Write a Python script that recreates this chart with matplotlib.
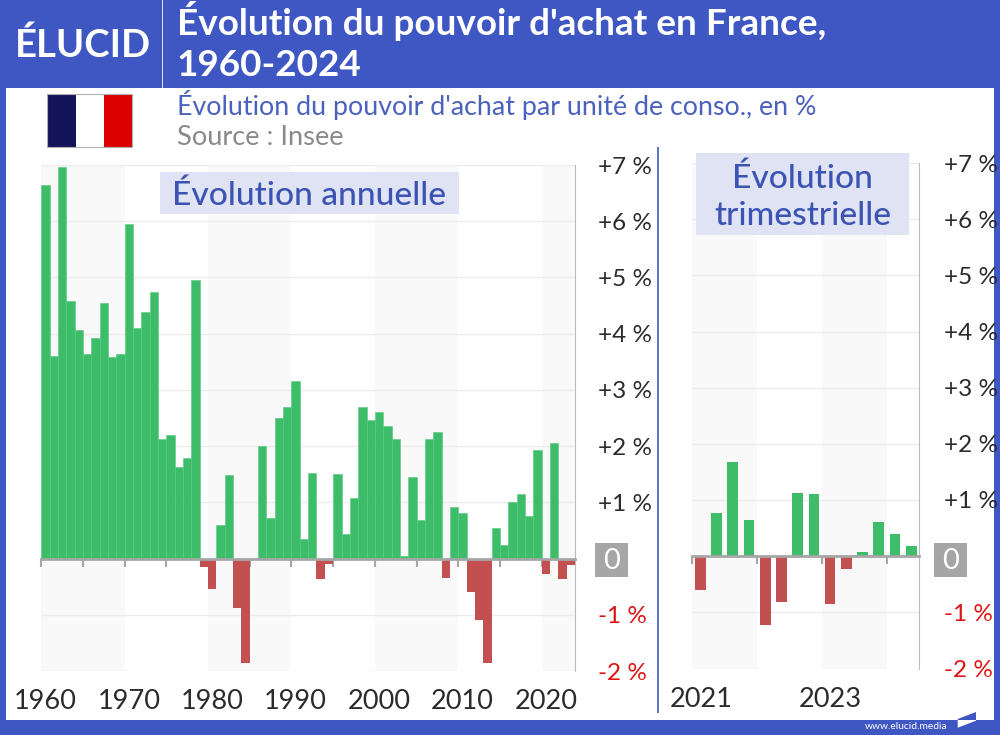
import numpy as np
import matplotlib
matplotlib.use('Agg')
import matplotlib.pyplot as plt
from matplotlib.patches import Rectangle, Polygon

plt.rcParams['font.family'] = ['Lato', 'DejaVu Sans']

# annual change in %, 1960-2023
years = list(range(1960, 2024))
annual = [6.64, 3.60, 6.97, 4.58, 4.06, 3.64, 3.92, 4.55, 3.58, 3.63,
          5.95, 4.10, 4.39, 4.75, 2.12, 2.19, 1.63, 1.79, 4.96, -0.15,
          -0.55, 0.60, 1.48, -0.88, -1.85, 0.0, 2.01, 0.72, 2.50, 2.70,
          3.16, 0.34, 1.52, -0.37, -0.09, 1.51, 0.43, 1.07, 2.70, 2.46,
          2.61, 2.35, 2.12, 0.04, 1.45, 0.68, 2.12, 2.25, -0.34, 0.92,
          0.81, -0.59, -1.10, -1.86, 0.54, 0.25, 1.00, 1.14, 0.75, 1.93,
          -0.28, 2.06, -0.37, -0.12]
# quarterly change in %, 2021 Q1 - 2024 Q2
quarters = [2021 + i * 0.25 for i in range(14)]
quarterly = [-0.60, 0.77, 1.67, 0.64, -1.22, -0.82, 1.12, 1.10,
             -0.85, -0.23, 0.07, 0.60, 0.39, 0.18]

y_ticks = [-2, -1, 1, 2, 3, 4, 5, 6, 7]
y_labels = ['-2 %', '-1 %', '+1 %', '+2 %', '+3 %', '+4 %', '+5 %', '+6 %', '+7 %']
decades = [1960, 1970, 1980, 1990, 2000, 2010, 2020]
year_labels = [2021, 2023]

BLUE = '#3f57c2'
TEXT_BLUE = '#3b53b3'
GREEN = '#3dbd6a'
RED = '#c25050'
W, H = 1000, 735

fig = plt.figure(figsize=(10, 7.35), dpi=100)


def fx(x):
    return x / W


def fy(y):
    return 1 - y / H


def box(x0, y0, x1, y1, color, z=1):
    fig.add_artist(Rectangle((fx(x0), fy(y1)), (x1 - x0) / W, (y1 - y0) / H,
                             transform=fig.transFigure, fc=color, ec='none', zorder=z))


def label(x, y, s, size, color, weight='normal', ha='left', va='baseline'):
    fig.text(fx(x), fy(y), s, fontsize=size, color=color, fontweight=weight, ha=ha, va=va, zorder=3)


def make_axes(x0, x1, y0, y1, xs, values, width, xlim, bands, ticks, pad):
    ax = fig.add_axes([fx(x0), fy(y1), (x1 - x0) / W, (y1 - y0) / H])
    ax.patch.set_alpha(0)
    ax.set_xlim(*xlim)
    ax.set_ylim(-2, 7)
    for a, b in bands:
        ax.axvspan(a, b, facecolor='#f9f9f9', edgecolor='none', lw=0, zorder=0)
    bars = ax.bar(xs, values, width=width, align='center',
                  color=[GREEN if v >= 0 else RED for v in values],
                  edgecolor='none', zorder=2)
    ax.set_yticks(y_ticks)
    ax.yaxis.tick_right()
    ax.set_yticklabels(y_labels, fontsize=17.5, ha='left')
    ax.tick_params(axis='y', length=0, pad=pad)
    for t, v in zip(ax.yaxis.get_major_ticks(), y_ticks):
        t.label2.set_color('#e01414' if v < 0 else '#2b2b2b')
    ax.grid(axis='y', color='#ececec', lw=1, zorder=1)
    ax.set_axisbelow(True)
    ax.set_xticks(ticks)
    ax.set_xticklabels([])
    ax.tick_params(axis='x', length=6, width=1.5, color='#a6a6a6')
    for s in ['top', 'left']:
        ax.spines[s].set_visible(False)
    ax.spines['right'].set_color('#bbbbbb')
    ax.spines['right'].set_linewidth(0.8)
    ax.spines['bottom'].set_position(('data', 0))
    ax.spines['bottom'].set_color('#a6a6a6')
    ax.spines['bottom'].set_linewidth(2)
    ax.spines['bottom'].set_zorder(3)
    return ax, bars


# white page with blue frame, kept behind the axes so the tick labels sit on top
box(0, 0, W, 88, BLUE, -1)
box(0, 88, 6, H, BLUE, -1)
box(994, 88, W, H, BLUE, -1)
box(0, 720, W, H, BLUE, -1)
box(161.8, 0, 162.8, 88, '#dfe3f5', 2)
box(657, 147, 659, 713, '#5f73c8', 1)

# flag
box(47, 94, 76, 147, '#14145a', 1)
box(76, 94, 104, 147, '#ffffff', 1)
box(104, 94, 132, 147, '#dc0000', 1)
fig.add_artist(Rectangle((fx(47), fy(147)), 85 / W, 53 / H, transform=fig.transFigure,
                         fc='none', ec='#b0b0b0', lw=0.8, zorder=2))

# headers
label(15, 57, 'ÉLUCID', 27.5, 'white', 'bold')
label(177, 35, "Évolution du pouvoir d'achat en France,", 26.6, 'white', 'bold')
label(177, 76, '1960-2024', 26.6, 'white', 'bold')
label(177, 115, "Évolution du pouvoir d'achat par unité de conso., en %", 19.3, '#4a62bd')
label(177, 145, 'Source : Insee', 19.6, '#8a8a8a')

# annual chart
ax1, bars1 = make_axes(41.3, 575, 165, 671, [y + 0.5 for y in years], annual, 1.0, (1960, 2024),
                       [(1960, 1970), (1980, 1990), (2000, 2010), (2020, 2024)],
                       list(range(1960, 2021, 5)), 16.5)
for d in decades:
    ax1.annotate(str(d), (d + 0.5, 0), xycoords=ax1.get_xaxis_transform(), xytext=(0, -27.4),
                 textcoords='offset points', ha='center', va='baseline', fontsize=19.5, color='#2b2b2b')
# faint hairlines between adjacent green bars
for b, v in zip(bars1, annual):
    if v >= 0:
        b.set_edgecolor('#58c981')
        b.set_linewidth(0.4)

# quarterly chart
ax2, bars2 = make_axes(692.3, 919.3, 163, 668.5, [q + 0.125 for q in quarters], quarterly, 0.165, (2021, 2024.5),
                       [(2021, 2022), (2023, 2024)], [2021, 2022, 2023, 2024], 18)
for y in year_labels:
    ax2.annotate(str(y), (y + 0.13, 0), xycoords=ax2.get_xaxis_transform(), xytext=(0, -27.7),
                 textcoords='offset points', ha='center', va='baseline', fontsize=19.5, color='#2b2b2b')

# zero labels
box(595, 543, 628, 577, '#a6a6a6', 2)
label(611.5, 561, '0', 21, 'white', ha='center', va='center')
box(934, 543, 967, 577, '#a6a6a6', 2)
label(950.5, 561, '0', 21, 'white', ha='center', va='center')

# panel titles
box(160, 172, 459, 214, '#dfe3f3', 2)
label(309.5, 205, 'Évolution annuelle', 24.1, TEXT_BLUE, 'medium', ha='center')
box(696, 153, 909, 235, '#dfe3f3', 2)
label(802.5, 188, 'Évolution', 24.1, TEXT_BLUE, 'medium', ha='center')
label(802.5, 225, 'trimestrielle', 24.1, TEXT_BLUE, 'medium', ha='center')

# footer
label(865, 729, 'www.elucid.media', 7.4, 'white')
fig.add_artist(Polygon([(fx(976), fy(712)), (fx(957.7), fy(719)), (fx(957.7), fy(720)), (fx(976), fy(720))],
                       transform=fig.transFigure, fc=BLUE, ec='none', zorder=2))
fig.add_artist(Polygon([(fx(957.7), fy(720)), (fx(976), fy(720)), (fx(976), fy(720.7)), (fx(957.7), fy(727.7))],
                       transform=fig.transFigure, fc='white', ec='none', zorder=2))

fig.savefig('out.png', dpi=100)
